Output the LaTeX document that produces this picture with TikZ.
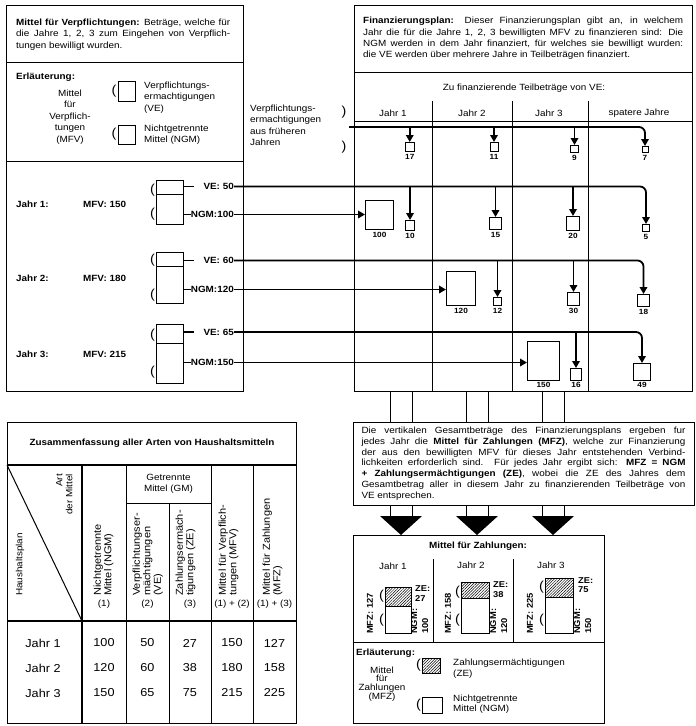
\documentclass[tikz,border=0pt]{standalone}
\usepackage{fontspec}
\setmainfont{Liberation Sans}[FakeStretch=1.1]
\usepackage{tikz}
\usetikzlibrary{positioning, arrows.meta, patterns.meta}
\tolerance=10000
\hbadness=10000
\tikzset{
  frameline/.style={draw=black, line width=1pt},
  sepline/.style={draw=black, line width=0.7pt},
  heavyline/.style={draw=black, line width=1.6pt},
  flow/.style={-{Triangle[length=7pt, width=7.5pt]}, line width=1.8pt},
  lead/.style={line width=1.8pt},
  plainbox/.style={draw=black, line width=1pt, inner sep=0pt, anchor=north west},
  zebox/.style={plainbox, pattern={Lines[angle=45, distance=2pt, line width=0.5pt]}},
  bodytext/.style={font=\fontsize{9}{11.5}\selectfont, inner sep=0pt},
  keytext/.style={font=\fontsize{9}{11.5}\selectfont\bfseries, inner sep=0pt},
  numlabel/.style={font=\fontsize{7.5}{8}\selectfont\bfseries, inner sep=0.5pt},
  stacklabel/.style={font=\fontsize{8.5}{9.5}\selectfont\bfseries, inner sep=0pt},
  bracket/.style={font=\fontsize{13}{13}\selectfont, inner sep=0pt},
  sidetext/.style={font=\fontsize{9}{10}\selectfont, inner sep=0pt, rotate=90, align=left},
  headtext/.style={font=\fontsize{10}{10.5}\selectfont, inner sep=0pt, rotate=90, align=left},
  tabvalue/.style={font=\fontsize{11.5}{12}\selectfont, inner sep=0pt},
}

\begin{document}
\begin{tikzpicture}[x=1pt, y=-1pt]
  \useasboundingbox (0,0) rectangle (696,726);

  % Mittel fuer Verpflichtungen
  \draw[frameline] (6,5) rectangle (243,391);
  \draw[frameline] (6,62) -- (243,62);
  \draw[frameline] (6,161) -- (243,161);
  \node[bodytext, anchor=north west, text width=214pt, align=justify] (mfvinfo) at (16,18.5)
    {\textbf{Mittel für Verpflichtungen:} Beträge, welche für\linebreak
     die Jahre 1, 2, 3 zum Eingehen von Verpflich-\linebreak
     tungen bewilligt wurden.};
  \node[keytext, anchor=west] (mfvkeyhead) at (16,77) {Erläuterung:};
  \node[bodytext, align=center] (mfvkey) at (70,117) {Mittel\\für\\Verpflich-\\tungen\\(MFV)};
  \node[plainbox, minimum width=17pt, minimum height=20pt] (vekey) at (118,81) {};
  \node[bracket] (vekeybr) at (114,91) {(};
  \node[bodytext, align=left, anchor=north west] (vekeytext) at (144,81.5)
    {Verpflichtungs-\\ermachtigungen\\(VE)};
  \node[plainbox, minimum width=17pt, minimum height=19pt] (ngmkey) at (118,125) {};
  \node[bracket] (ngmkeybr) at (114,134) {(};
  \node[bodytext, align=left, anchor=north west] (ngmkeytext) at (144,124.5)
    {Nichtgetrennte\\Mittel (NGM)};

  % Jahr 1
  \node[keytext, anchor=west] (yr1) at (16,204) {Jahr 1:};
  \node[keytext, anchor=west] (mfv1) at (83,204) {MFV: 150};
  \node[plainbox, minimum width=27pt, minimum height=14pt] (s1ve) at (156,180) {};
  \node[plainbox, minimum width=27pt, minimum height=30pt] (s1ngm) at (156,194) {};
  \node[bracket] (s1vebr) at (152.5,190) {(};
  \node[bracket] (s1ngmbr) at (152.5,214) {(};
  \node[keytext, anchor=east] (ve1) at (234,186.5) {VE: 50};
  \node[keytext, anchor=east] (ngm1) at (234,214.5) {NGM:100};

  % Jahr 2
  \node[keytext, anchor=west] (yr2) at (16,278) {Jahr 2:};
  \node[keytext, anchor=west] (mfv2) at (83,278) {MFV: 180};
  \node[plainbox, minimum width=27pt, minimum height=14pt] (s2ve) at (156,252) {};
  \node[plainbox, minimum width=27pt, minimum height=37pt] (s2ngm) at (156,266) {};
  \node[bracket] (s2vebr) at (152.5,260) {(};
  \node[bracket] (s2ngmbr) at (152.5,295) {(};
  \node[keytext, anchor=east] (ve2) at (234,260.5) {VE: 60};
  \node[keytext, anchor=east] (ngm2) at (234,289.5) {NGM:120};

  % Jahr 3
  \node[keytext, anchor=west] (yr3) at (16,354) {Jahr 3:};
  \node[keytext, anchor=west] (mfv3) at (83,354) {MFV: 215};
  \node[plainbox, minimum width=27pt, minimum height=19pt] (s3ve) at (156,324) {};
  \node[plainbox, minimum width=27pt, minimum height=40pt] (s3ngm) at (156,343) {};
  \node[bracket] (s3vebr) at (152.5,335) {(};
  \node[bracket] (s3ngmbr) at (152.5,372) {(};
  \node[keytext, anchor=east] (ve3) at (234,332) {VE: 65};
  \node[keytext, anchor=east] (ngm3) at (234,362.5) {NGM:150};

  % Fruehere Jahre
  \node[bodytext, align=left, anchor=north west] (prevtext) at (250,104.5)
    {Verpflichtungs-\\ermachtigungen\\aus früheren\\Jahren};
  \node[bracket] (prevbra) at (344,112) {)};
  \node[bracket] (prevbrb) at (344,147) {)};
  \coordinate (prevstart) at (349,127);

  % Finanzierungsplan
  \draw[frameline] (354,5) rectangle (692,391);
  \draw[frameline] (354,72) -- (692,72);
  \node[bodytext, font=\fontsize{9}{11.3}\selectfont, anchor=north west, text width=320pt, align=justify] (planinfo) at (363,17)
    {\textbf{Finanzierungsplan:} Dieser Finanzierungsplan gibt an, in welchem\linebreak
     Jahr die für die Jahre 1, 2, 3 bewilligten MFV zu finanzieren sind: Die\linebreak
     NGM werden in dem Jahr finanziert, für welches sie bewilligt wurden:\linebreak
     die VE werden über mehrere Jahre in Teilbeträgen finanziert.};
  \node[bodytext] (vehead) at (524,88) {Zu finanzierende Teilbeträge von VE:};
  \draw[sepline] (354,121) -- (692,121);
  \foreach \x in {432,512,588} \draw[sepline] (\x,101) -- (\x,391);
  \node[bodytext] (col1) at (393,113) {Jahr 1};
  \node[bodytext] (col2) at (472,113) {Jahr 2};
  \node[bodytext] (col3) at (549,113) {Jahr 3};
  \node[bodytext] (col4) at (639,113) {spatere Jahre};

  % Teilbetraege
  \node[plainbox, minimum width=8.5pt, minimum height=9pt] (e1) at (405,142) {};
  \node[plainbox, minimum width=8pt, minimum height=9pt] (e2) at (489.5,142) {};
  \node[plainbox, minimum width=8pt, minimum height=7pt] (e3) at (570,145) {};
  \node[plainbox, minimum width=6pt, minimum height=6pt] (e4) at (641.5,146) {};
  \node[numlabel, below=2pt of e1] (e1lab) {17};
  \node[numlabel, below=2pt of e2] (e2lab) {11};
  \node[numlabel, below=2pt of e3] (e3lab) {9};
  \node[numlabel, below=2pt of e4] (e4lab) {7};

  \node[plainbox, minimum width=28pt, minimum height=29pt] (n1) at (365,200) {};
  \node[plainbox, minimum width=9pt, minimum height=10pt] (v1a) at (405,220) {};
  \node[plainbox, minimum width=12pt, minimum height=12pt] (v1b) at (489,217) {};
  \node[plainbox, minimum width=13pt, minimum height=14pt] (v1c) at (566,216) {};
  \node[plainbox, minimum width=7pt, minimum height=7pt] (v1d) at (642,224) {};
  \node[numlabel, below=2pt of n1] (n1lab) {100};
  \node[numlabel, below=1.5pt of v1a] (v1alab) {10};
  \node[numlabel, below=2pt of v1b] (v1blab) {15};
  \node[numlabel, below=1.5pt of v1c] (v1clab) {20};
  \node[numlabel, below=1.5pt of v1d] (v1dlab) {5};

  \node[plainbox, minimum width=29pt, minimum height=34pt] (n2) at (446,271) {};
  \node[plainbox, minimum width=8pt, minimum height=8pt] (v2a) at (493,297) {};
  \node[plainbox, minimum width=12pt, minimum height=13pt] (v2b) at (567,292) {};
  \node[plainbox, minimum width=12pt, minimum height=12pt] (v2c) at (637,294) {};
  \node[numlabel, below=2pt of n2] (n2lab) {120};
  \node[numlabel, below=2pt of v2a] (v2alab) {12};
  \node[numlabel, below=2pt of v2b] (v2blab) {30};
  \node[numlabel, below=2pt of v2c] (v2clab) {18};

  \node[plainbox, minimum width=32pt, minimum height=39pt] (n3) at (527,341) {};
  \node[plainbox, minimum width=11pt, minimum height=12pt] (v3a) at (570,368) {};
  \node[plainbox, minimum width=17pt, minimum height=17pt] (v3b) at (633,363) {};
  \node[numlabel, below=1pt of n3] (n3lab) {150};
  \node[numlabel, below=1pt of v3a] (v3alab) {16};
  \node[numlabel, below=1pt of v3b] (v3blab) {49};

  % Erlaeuterung MFZ
  \node[frameline, bodytext, font=\fontsize{9}{10.8}\selectfont, minimum width=341pt, minimum height=83pt, text width=324pt, align=justify] (mfzinfo) at (523.5,463.5)
    {Die vertikalen Gesamtbeträge des Finanzierungsplans ergeben fur\linebreak
     jedes Jahr die \textbf{Mittel für Zahlungen (MFZ)}, welche zur Finanzierung\linebreak
     der aus den bewilligten MFV für dieses Jahr entstehenden Verbind-\linebreak
     lichkeiten erforderlich sind. Für jedes Jahr ergibt sich: \textbf{MFZ = NGM}\linebreak
     \textbf{+ Zahlungsermächtigungen (ZE)}, wobei die ZE des Jahres dem\linebreak
     Gesamtbetrag aller in diesem Jahr zu finanzierenden Teilbeträge von\linebreak
     VE entsprechen.};

  % Grosse Pfeile
  \foreach \cx in {401,477,553} {
    \draw[frameline] (\cx-11,391) -- (\cx-11,422) (\cx+11,391) -- (\cx+11,422);
    \draw[frameline] (\cx-11,505) -- (\cx-11,516) (\cx+11,505) -- (\cx+11,516);
    \fill (\cx-21,516) -- (\cx+21,516) -- (\cx,535) -- cycle;
  }

  % Mittel fuer Zahlungen
  \draw[frameline] (353,535) rectangle (604,723);
  \draw[frameline] (353,642) -- (604,642);
  \draw[frameline] (433,559) -- (433,642);
  \draw[frameline] (513,559) -- (513,642);
  \node[keytext] (mfzhead) at (478,546) {Mittel für Zahlungen:};
  \node[bodytext] (zcol1) at (393,566) {Jahr 1};
  \node[bodytext] (zcol2) at (471,565) {Jahr 2};
  \node[bodytext] (zcol3) at (551,565) {Jahr 3};

  \node[zebox, minimum width=26pt, minimum height=19pt] (z1ze) at (385,587) {};
  \node[plainbox, minimum width=26pt, minimum height=27pt] (z1ngm) at (385,606) {};
  \node[bracket] (z1zebr) at (381.5,596) {(};
  \node[bracket] (z1ngmbr) at (381.5,620) {(};
  \node[stacklabel, align=left, anchor=north west] (z1zelab) at (415,585.5) {ZE:\\27};
  \node[stacklabel, font=\fontsize{8.5}{11}\selectfont\bfseries, rotate=90, align=left, anchor=north west] (z1ngmlab) at (411,634) {NGM:\\100};
  \node[stacklabel, rotate=90, anchor=west] (z1mfz) at (370,634) {MFZ: 127};

  \node[zebox, minimum width=28pt, minimum height=16pt] (z2ze) at (461,582) {};
  \node[plainbox, minimum width=28pt, minimum height=35pt] (z2ngm) at (461,598) {};
  \node[bracket] (z2zebr) at (457.5,592) {(};
  \node[bracket] (z2ngmbr) at (457.5,620) {(};
  \node[stacklabel, align=left, anchor=north west] (z2zelab) at (493,581.5) {ZE:\\38};
  \node[stacklabel, font=\fontsize{8.5}{11}\selectfont\bfseries, rotate=90, align=left, anchor=north west] (z2ngmlab) at (490,634) {NGM:\\120};
  \node[stacklabel, rotate=90, anchor=west] (z2mfz) at (448,634) {MFZ: 158};

  \node[zebox, minimum width=28pt, minimum height=19pt] (z3ze) at (545,578) {};
  \node[plainbox, minimum width=28pt, minimum height=36pt] (z3ngm) at (545,597) {};
  \node[bracket] (z3zebr) at (541.5,587) {(};
  \node[bracket] (z3ngmbr) at (541.5,620) {(};
  \node[stacklabel, align=left, anchor=north west] (z3zelab) at (578,577) {ZE:\\75};
  \node[stacklabel, font=\fontsize{8.5}{11}\selectfont\bfseries, rotate=90, align=left, anchor=north west] (z3ngmlab) at (574,634) {NGM:\\150};
  \node[stacklabel, rotate=90, anchor=west] (z3mfz) at (530,634) {MFZ: 225};

  \node[keytext, anchor=west] (mfzkeyhead) at (356,653) {Erläuterung:};
  \node[bodytext, font=\fontsize{9}{8.8}\selectfont, align=center] (mfzkey) at (382,684) {Mittel\\für\\Zahlungen\\(MFZ)};
  \node[zebox, minimum width=18pt, minimum height=15pt] (zekey) at (422,658) {};
  \node[bracket] (zekeybr) at (418.5,665) {(};
  \node[bodytext, font=\fontsize{9}{11}\selectfont, align=left, anchor=north west] (zekeytext) at (453,658.5) {Zahlungsermächtigungen\\(ZE)};
  \node[plainbox, minimum width=20pt, minimum height=16pt] (nkey) at (422,697) {};
  \node[bracket] (nkeybr) at (418.5,705) {(};
  \node[bodytext, font=\fontsize{9}{9.5}\selectfont, align=left, anchor=north west] (nkeytext) at (453,695) {Nichtgetrennte\\Mittel (NGM)};

  % Zusammenfassung
  \draw[frameline] (7,422) rectangle (296,723);
  \node[keytext] (sumhead) at (152,443) {Zusammenfassung aller Arten von Haushaltsmitteln};
  \draw[heavyline] (7,465) -- (296,465);
  \draw[heavyline] (7,621) -- (296,621);
  \draw[heavyline] (82,465) -- (82,723);
  \foreach \x in {126,211,253} \draw[frameline] (\x,465) -- (\x,723);
  \draw[frameline] (126,503) -- (211,503);
  \draw[frameline] (169,503) -- (169,723);
  \draw[frameline] (7,465) -- (82,621);
  \node[bodytext, align=center] (gmhead) at (168.5,484) {Getrennte\\Mittel (GM)};
  \node[headtext, anchor=north west] (th1) at (93.5,596) {Nichtgetrennte\\Mittel (NGM)};
  \node[headtext, anchor=north west] (th2) at (132.5,596) {Verpflichtungser-\\mächtigungen\\(VE)};
  \node[headtext, anchor=north west] (th3) at (175.5,596) {Zahlungsermäch-\\tigungen (ZE)};
  \node[headtext, anchor=north west] (th4) at (218.5,596) {Mittel für Verpflich-\\tungen (MFV)};
  \node[headtext, anchor=north west] (th5) at (262.5,596) {Mittel für Zahlungen\\(MFZ)};
  \node[sidetext, anchor=west] (thplan) at (20,596) {Haushaltsplan};
  \node[sidetext, align=right, anchor=north east] (thart) at (56,474) {Art\\der Mittel};
  \node[bodytext] (tn1) at (104,604) {(1)};
  \node[bodytext] (tn2) at (147.5,604) {(2)};
  \node[bodytext] (tn3) at (190,604) {(3)};
  \node[bodytext] (tn4) at (232,604) {(1) + (2)};
  \node[bodytext] (tn5) at (274.5,604) {(1) + (3)};
  \foreach \yr/\ca/\cb/\cc/\cd/\ce [count=\i] in {1/100/50/27/150/127, 2/120/60/38/180/158, 3/150/65/75/215/225} {
    \pgfmathsetmacro\yy{618+25*\i}
    \node[tabvalue] (r\i-0) at (43,\yy) {Jahr \yr};
    \node[tabvalue] (r\i-1) at (104,\yy) {\ca};
    \node[tabvalue] (r\i-2) at (147.5,\yy) {\cb};
    \node[tabvalue] (r\i-3) at (190,\yy) {\cc};
    \node[tabvalue] (r\i-4) at (232,\yy) {\cd};
    \node[tabvalue] (r\i-5) at (274.5,\yy) {\ce};
  }

  % Verbindungen
  \draw[lead, shorten >=9pt] (s1ve.east |- ve1.west) -- (ve1.west);
  \draw[lead] (s1ngm.east |- ngm1.west) -- (ngm1.west);
  \draw[lead, shorten >=9pt] (s2ve.east |- ve2.west) -- (ve2.west);
  \draw[lead] (s2ngm.east |- ngm2.west) -- (ngm2.west);
  \draw[lead, shorten >=9pt] (s3ve.east |- ve3.west) -- (ve3.west);
  \draw[lead] (s3ngm.east |- ngm3.west) -- (ngm3.west);

  \draw[flow, rounded corners=6pt] (prevstart) -| (e4.north);
  \foreach \b in {e1,e2,e3} \draw[flow] (\b.north |- prevstart) -- (\b.north);

  \draw[flow, rounded corners=6pt] (ve1.east) -| (v1d.north);
  \foreach \b in {v1a,v1b,v1c} \draw[flow] (\b.north |- ve1.east) -- (\b.north);
  \draw[flow] (ngm1.east) -- (ngm1.east -| n1.west);

  \draw[flow, rounded corners=6pt] (ve2.east) -| (v2c.north);
  \foreach \b in {v2a,v2b} \draw[flow] (\b.north |- ve2.east) -- (\b.north);
  \draw[flow] (ngm2.east) -- (ngm2.east -| n2.west);

  \draw[flow, rounded corners=6pt] (ve3.east) -| (v3b.north);
  \draw[flow] (v3a.north |- ve3.east) -- (v3a.north);
  \draw[flow] (ngm3.east) -- (ngm3.east -| n3.west);
\end{tikzpicture}
\end{document}
